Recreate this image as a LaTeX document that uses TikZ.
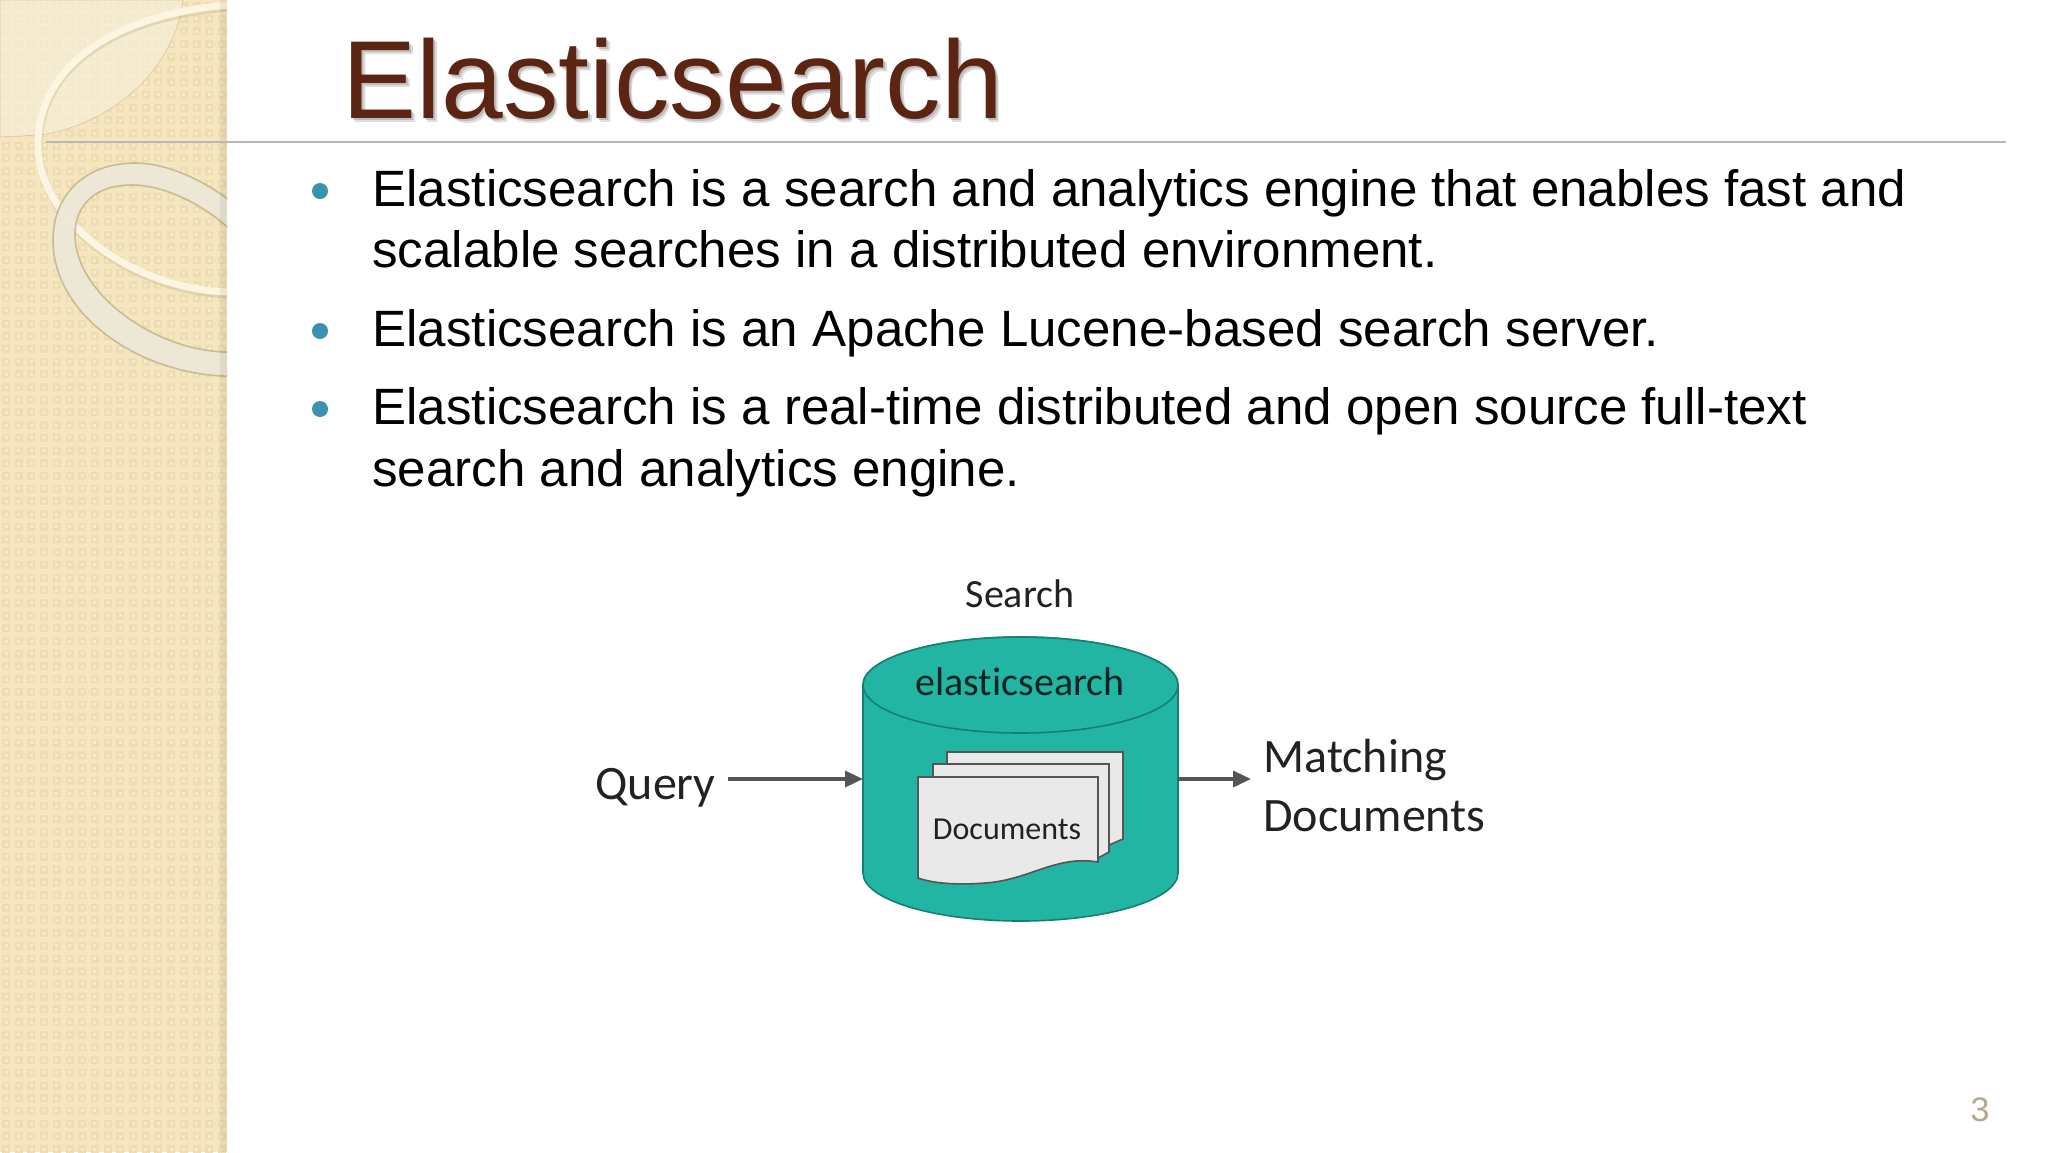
\documentclass[tikz,border=0pt]{standalone}
\usepackage{fontspec}
\setmainfont{Liberation Sans}
\newfontfamily\imgfont[Ligatures={NoCommon}]{Carlito}
\usetikzlibrary{arrows.meta}
\definecolor{sandbase}{HTML}{F6E6BF}
\definecolor{sandlight}{HTML}{F8EBCB}
\definecolor{sanddark}{HTML}{EEDDB3}
\definecolor{creamtop}{HTML}{F7EFD8}
\definecolor{ribbon}{HTML}{FBF5E1}
\definecolor{ringfill}{HTML}{EDE8D9}
\definecolor{ringedge}{HTML}{C9BC92}
\definecolor{titlebrown}{HTML}{5C2413}
\definecolor{bulletblue}{HTML}{3A92AE}
\definecolor{teal}{HTML}{23B5A3}
\definecolor{tealdark}{HTML}{157F73}
\definecolor{docfill}{HTML}{E9E9EA}
\definecolor{arrowgray}{HTML}{555555}
\definecolor{ink}{HTML}{222222}
\definecolor{pagenum}{HTML}{B3A98A}
\tikzset{
  x=0.5pt,y=-0.5pt,
  bodytext/.style={anchor=base west,font=\fontsize{25.55}{26}\selectfont,text=black,inner sep=0pt},
  bulletdot/.style={circle,fill=bulletblue,draw=none,minimum size=8pt,inner sep=0pt},
  imglabel/.style={font=\imgfont\fontsize{24}{24}\selectfont,text=ink,inner sep=0pt},
  docsheet/.style={fill=docfill,draw=arrowgray,line width=0.8pt},
  conn/.style={draw=arrowgray,line width=1.7pt,-{Triangle[length=9pt,width=8pt]}}
}
\begin{document}
\begin{tikzpicture}
\useasboundingbox (0,0) rectangle (2048,1152);
\fill[white] (0,0) rectangle (2048,1152);
% sidebar
\begin{scope}
\clip (0,0) rectangle (227,1152);
\fill[sandbase] (0,0) rectangle (227,1152);
\foreach \i in {0,...,17}{
  \foreach \j in {0,...,90}{
    \fill[sanddark] (\i*12.7+2,\j*12.7+2) rectangle ++(8,8);
    \fill[sandlight] (\i*12.7+4.5,\j*12.7+4.5) rectangle ++(3,3);
  }
}
% light top-left leaf
\fill[creamtop,opacity=.72,draw=ringedge,line width=.3pt]
  (0,0) -- (183,0) .. controls (175,70) and (110,125) .. (40,135) -- (0,137) -- cycle;
% ribbon
\draw[ringedge,opacity=.45,line width=3.5pt] (229,8)
  .. controls (110,18) and (39,70) .. (39,147)
  .. controls (39,225) and (135,292) .. (229,295);
\draw[ribbon,line width=3.5pt] (229,5)
  .. controls (110,15) and (38,68) .. (38,145)
  .. controls (38,222) and (135,290) .. (229,292);
% ring
\fill[ringfill,fill opacity=.92,draw=ringedge,line width=.8pt,even odd rule]
  (300,290) .. controls (270,215) and (190,163) .. (135,163)
  .. controls (85,163) and (53,195) .. (53,240)
  .. controls (53,320) and (150,380) .. (240,376)
  .. controls (290,370) and (320,340) .. (300,290) -- cycle
  (262,270) .. controls (235,220) and (175,185) .. (132,185)
  .. controls (95,185) and (75,205) .. (75,235)
  .. controls (75,295) and (160,355) .. (235,352)
  .. controls (275,345) and (285,315) .. (262,270) -- cycle;
\fill[black,opacity=.06] (220,0) rectangle (227,1152);
\end{scope}
% separator
\draw[black!28,line width=.9pt] (46,142) -- (2006,142);
% title
\node[anchor=base west,inner sep=0pt,font=\fontsize{55.5}{56}\selectfont,text=black!25,opacity=.5] (titleshadowb) at (346,122) {Elasticsearch};
\node[anchor=base west,inner sep=0pt,font=\fontsize{55.5}{56}\selectfont,text=black!35,opacity=.6] (titleshadow) at (344.5,120) {Elasticsearch};
\node[anchor=base west,inner sep=0pt,font=\fontsize{55.5}{56}\selectfont,text=titlebrown] (title) at (342.5,118) {Elasticsearch};
% bullets
\node[bulletdot] (b1) at (320,191) {};
\node[bulletdot] (b2) at (320,331) {};
\node[bulletdot] (b3) at (320,409) {};
\node[bodytext] (l1) at (372,206) {Elasticsearch is a search and analytics engine that enables fast and};
\node[bodytext] (l2) at (372,267) {scalable searches in a distributed environment.};
\node[bodytext] (l3) at (372,346) {Elasticsearch is an Apache Lucene-based search server.};
\node[bodytext] (l4) at (372,424) {Elasticsearch is a real-time distributed and open source full-text};
\node[bodytext] (l5) at (372,486) {search and analytics engine.};
% page number
\node[inner sep=0pt,font=\fontsize{17}{17}\selectfont,text=pagenum] (pnum) at (1980,1110) {3};
% cylinder
\path[fill=teal,draw=tealdark,line width=.8pt] (863,685) -- (863,873) arc[start angle=180,end angle=360,x radius=157.5,y radius=-48] -- (1178,685) arc[start angle=0,end angle=180,x radius=157.5,y radius=-48] -- cycle;
\draw[fill=teal,draw=tealdark,line width=.8pt] (1020.5,685) ellipse[x radius=157.5,y radius=48];
\node[imglabel,font=\imgfont\fontsize{20}{20}\selectfont,text=black!80!teal] (es) at (1020,682) {elasticsearch};
% sheets
\draw[docsheet] (947,752) -- (1123,752) -- (1123,839) .. controls (1118,841) and (1114,843) .. (1109,845) -- (947,845) -- cycle;
\draw[docsheet] (933,764) -- (1109,764) -- (1109,852) .. controls (1105,854) and (1102,856) .. (1098,858) -- (933,858) -- cycle;
\path[docsheet] (918,777) -- (1098,777) -- (1098,862)
  .. controls (1055,855) and (1030,880) .. (985,883)
  .. controls (960,885) and (935,884) .. (918,878) -- cycle;
\node[imglabel,font=\imgfont\fontsize{16}{16}\selectfont] (docs) at (1007,829) {Documents};
% labels
\node[imglabel,font=\imgfont\fontsize{20}{20}\selectfont] (search) at (1020,594) {Search};
\node[imglabel,anchor=east] (query) at (716,788) {Query};
\node[imglabel,anchor=west] (match) at (1263,760) {Matching};
\node[imglabel,anchor=west] (mdocs) at (1263,816) {Documents};
% connectors
\coordinate (cylL) at (863,779);
\coordinate (cylR) at (1178,779);
\coordinate (qEnd) at (728,779);
\coordinate (mEnd) at (1251,779);
\draw[conn] (qEnd) -- (cylL);
\draw[conn] (cylR) -- (mEnd);
\end{tikzpicture}
\end{document}
